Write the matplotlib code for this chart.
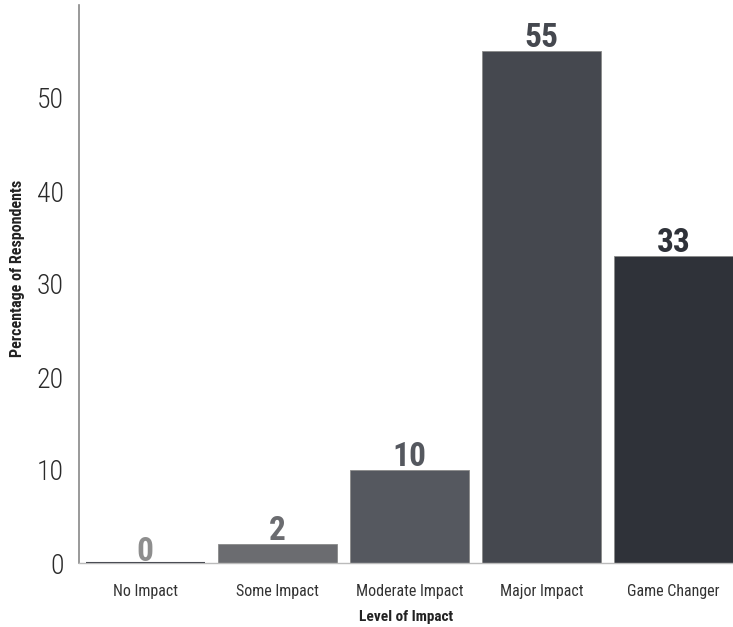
import matplotlib
matplotlib.use("Agg")
import matplotlib.pyplot as plt
from matplotlib import font_manager as fm

categories = ["No Impact", "Some Impact", "Moderate Impact", "Major Impact", "Game Changer"]
values = [0, 2, 10, 55, 33]
bar_colors = ["#3a3d44", "#6b6c70", "#55585f", "#45484f", "#2f3239"]
label_colors = ["#8e8e8e", "#6b6c70", "#55585f", "#45484f", "#2f3239"]
yticks = [0, 10, 20, 30, 40, 50]

names = {f.name for f in fm.fontManager.ttflist}
cond = None
for cand in ["Roboto Condensed", "Liberation Sans Narrow", "DejaVu Sans Condensed"]:
    if cand in names:
        cond = cand
        break
base = "Roboto" if "Roboto" in names else "DejaVu Sans"
if cond is None:
    cond = base

fig = plt.figure(figsize=(7.33, 6.27), dpi=100)
ax = fig.add_axes([79/733, 64/627, 1 - 79/733, (563-5)/627])

x = list(range(len(categories)))
ax.bar(x, values, width=0.9, color=bar_colors, edgecolor="#8a8a8a", linewidth=0.6, zorder=2)
for xi, v in zip(x, values):
    if v == 0:
        ax.plot([xi-0.45, xi+0.45], [0, 0], color="#4a4d54", lw=1.5, zorder=3, solid_capstyle="butt")

for xi, v, c in zip(x, values, label_colors):
    offset = 1.5 if v == 0 else 3.0
    ax.annotate(str(v), xy=(xi, v), xytext=(0, offset), textcoords="offset points",
                ha="center", va="baseline", fontsize=24,
                fontweight="bold", color=c, family=cond)

ax.set_xlim(-0.5, 4.45)
ax.set_ylim(0, 60)
ax.set_yticks(yticks)
ax.set_yticklabels([str(t) for t in yticks], fontsize=20, color="#2a2a2a",
                   family=cond, fontweight="light")
ax.set_xticks(x)
ax.set_xticklabels(categories, fontsize=11.5, color="#333333", family=cond)
ax.tick_params(axis="both", length=0)
ax.tick_params(axis="x", pad=15)
ax.tick_params(axis="y", pad=11)
for lbl in ax.get_yticklabels():
    lbl.set_va("center_baseline")

for s in ["top", "right"]:
    ax.spines[s].set_visible(False)
ax.spines["left"].set_color("#888888")
ax.spines["left"].set_linewidth(1.2)
ax.spines["bottom"].set_color("#bbbbbb")
ax.spines["bottom"].set_linewidth(1.0)

ax.set_xlabel("Level of Impact", fontsize=11, fontweight="bold", color="#222222",
              family=cond, labelpad=8)
fig.text(18/733, 1 - 268/627, "Percentage of Respondents", rotation=90, ha="center",
         va="center", fontsize=11.5, fontweight="bold", color="#222222", family=cond)

fig.savefig("out.png", dpi=100)
